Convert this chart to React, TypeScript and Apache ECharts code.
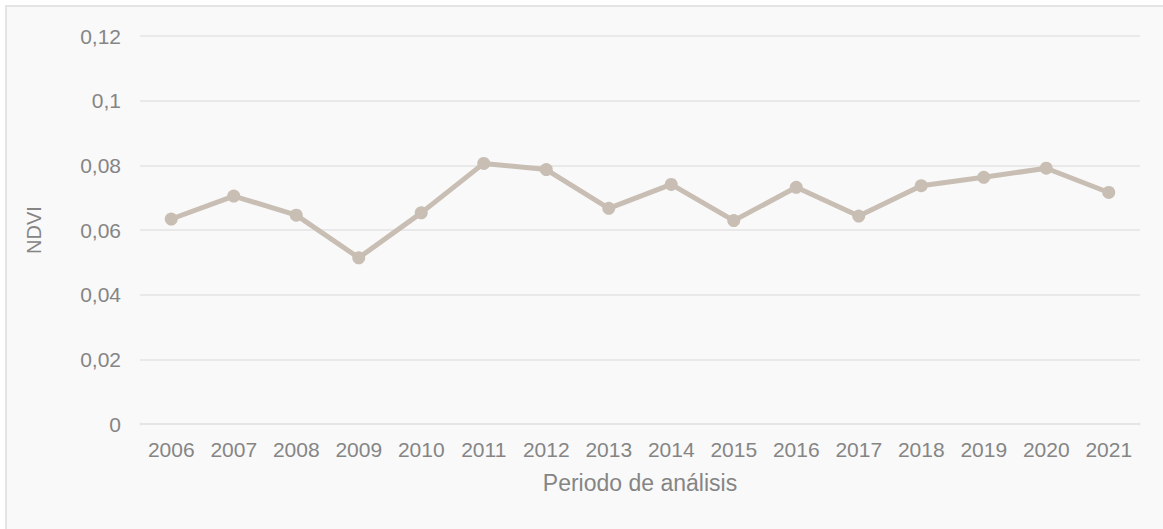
import React, { useEffect, useRef } from "react";
import * as echarts from "echarts";

const years = ["2006", "2007", "2008", "2009", "2010", "2011", "2012", "2013", "2014", "2015", "2016", "2017", "2018", "2019", "2020", "2021"];
const ndvi = [0.0634, 0.0705, 0.0646, 0.0514, 0.0653, 0.0806, 0.0787, 0.0667, 0.0741, 0.0629, 0.0732, 0.0643, 0.0737, 0.0763, 0.0791, 0.0716];
const yTicks = [0, 0.02, 0.04, 0.06, 0.08, 0.1, 0.12];

const FONT = "'Liberation Sans', Arial, sans-serif";
const LABEL = "#858585";

export default function App() {
  const ref = useRef<HTMLDivElement>(null);
  useEffect(() => {
    document.body.style.overflow = "hidden";
    const chart = echarts.init(ref.current!, null, { renderer: "svg" });
    chart.setOption({
      animation: false,
      backgroundColor: "#f9f9f9",
      textStyle: { fontFamily: FONT },
      grid: { left: 133, right: 27, top: 29, bottom: 113, containLabel: false },
      xAxis: {
        type: "category",
        data: years,
        boundaryGap: true,
        name: "Periodo de análisis",
        nameLocation: "middle",
        nameGap: 47,
        nameTextStyle: { color: LABEL, fontSize: 23, fontFamily: FONT },
        axisLine: { show: true, lineStyle: { color: "#e3e3e3", width: 1.5 } },
        axisTick: { show: false },
        axisLabel: { color: LABEL, fontSize: 21, margin: 15, fontFamily: FONT },
      },
      yAxis: {
        type: "value",
        min: 0,
        max: 0.12,
        interval: 0.02,
        name: "NDVI",
        nameLocation: "middle",
        nameGap: 96,
        nameRotate: 90,
        nameTextStyle: { color: LABEL, fontSize: 20, fontFamily: FONT },
        axisLine: { show: false },
        axisTick: { show: false },
        splitLine: { lineStyle: { color: "#e3e3e3", width: 1.5 } },
        axisLabel: {
          color: LABEL,
          fontSize: 21,
          margin: 19,
          fontFamily: FONT,
          formatter: (v: number) => {
            const t = yTicks.find((x) => Math.abs(x - v) < 1e-9);
            const val = t !== undefined ? t : v;
            return String(Number(val.toFixed(4))).replace(".", ",");
          },
        },
      },
      series: [
        {
          type: "line",
          data: ndvi,
          symbol: "circle",
          symbolSize: 13,
          lineStyle: { color: "#c8beb3", width: 5 },
          itemStyle: { color: "#c8beb3" },
        },
      ],
    });
    return () => chart.dispose();
  }, []);
  return (
    <div style={{ position: "fixed", left: 0, top: 0, width: 1163, height: 529, overflow: "hidden", background: "#ffffff" }}>
      <div
        style={{
          position: "absolute",
          left: 5,
          top: 5,
          width: 1160,
          height: 530,
          borderLeft: "2px solid #e4e4e4",
          borderTop: "2px solid #e4e4e4",
        }}
      >
        <div ref={ref} style={{ width: 1160, height: 530 }} />
      </div>
    </div>
  );
}
